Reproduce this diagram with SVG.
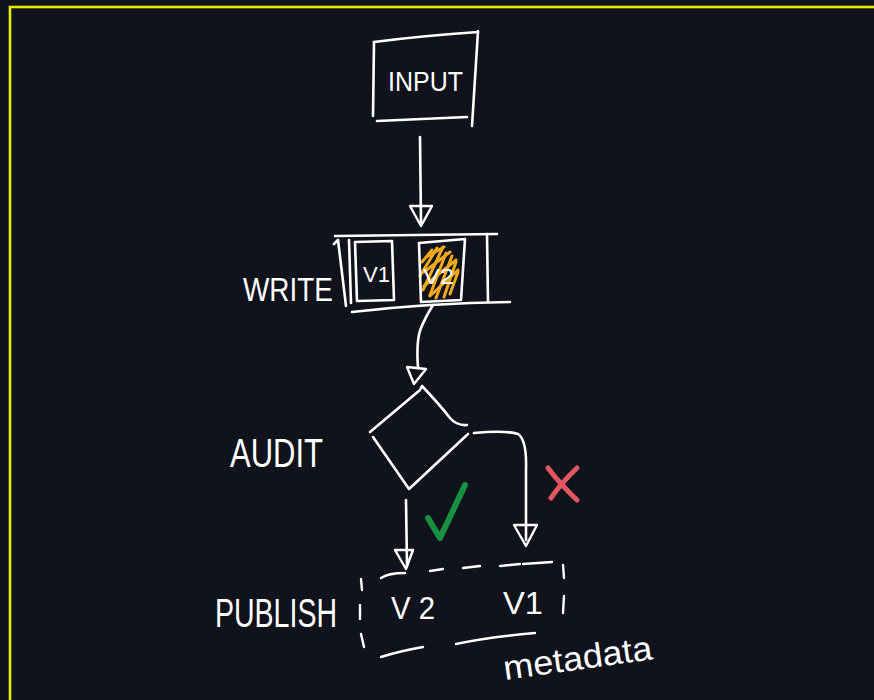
<svg xmlns="http://www.w3.org/2000/svg" width="874" height="700" viewBox="0 0 874 700">
  <style>
    .ln { fill: none; stroke: #ffffff; stroke-width: 2.6; stroke-linecap: round; stroke-linejoin: round; }
    .dash { fill: none; stroke: #ffffff; stroke-width: 2.4; stroke-linecap: round; }
    .head { fill: none; stroke: #ffffff; stroke-width: 2.4; stroke-linejoin: round; }
    .lbl { fill: #ffffff; font-family: "Liberation Sans", "DejaVu Sans", sans-serif; }
    .hatch { fill: none; stroke: #f0a81e; stroke-width: 3; stroke-linecap: round; }
  </style>

  <!-- canvas -->
  <rect x="0" y="0" width="874" height="700" fill="#10121c"/>
  <rect x="10" y="7" width="900" height="720" fill="none" stroke="#e3ee00" stroke-width="2.6"/>

  <!-- INPUT -->
  <g id="input">
    <path class="ln" d="M374 42 Q420 36 478 32"/>
    <path class="ln" d="M478 31 L472 126"/>
    <path class="ln" d="M377 121 L467 117"/>
    <path class="ln" d="M374 42 L373 116"/>
    <text class="lbl" x="388" y="91" font-size="28" textLength="75" lengthAdjust="spacingAndGlyphs">INPUT</text>
  </g>

  <!-- WRITE -->
  <g id="write">
    <text class="lbl" x="243" y="301" font-size="34" textLength="90" lengthAdjust="spacingAndGlyphs">WRITE</text>
    <path class="ln" d="M335 236 L497 234"/>
    <path class="ln" d="M352 312 Q430 303 510 302"/>
    <path class="ln" d="M334 244 L338 240 L346 306"/>
    <path class="ln" d="M349 240 L351 303"/>
    <!-- v1 slot -->
    <path class="ln" d="M355 242 L392 241 L394 300 L357 301 Z"/>
    <text class="lbl" x="363" y="282" font-size="22" textLength="27" lengthAdjust="spacingAndGlyphs">V1</text>
    <!-- v2 slot, highlighted -->
    <g>
      <path class="hatch" d="M432 250 L422 262 M437 248 L420 276 M443 247 L423 290 M446 253 L430 295 M452 256 L436 298 M456 262 L444 297 M458 272 L450 294"/>
      <path class="hatch" d="M428 256 L444 247 M424 272 L450 252 M424 286 L456 260 M430 296 L458 270"/>
    </g>
    <path class="ln" d="M419 243 L465 239 L461 300 L421 302 Z"/>
    <text class="lbl" x="423" y="284" font-size="22" textLength="31" lengthAdjust="spacingAndGlyphs">V2</text>
    <path class="ln" d="M487 234 L488 302"/>
  </g>

  <!-- AUDIT -->
  <g id="audit">
    <text class="lbl" x="230" y="467" font-size="40" textLength="93" lengthAdjust="spacingAndGlyphs">AUDIT</text>
    <path class="ln" d="M370 432 L420 390 L422 386 Q440 405 450 418 Q457 426 467 425"/>
    <path class="ln" d="M373 437 L409 489 L468 434"/>
  </g>

  <!-- PUBLISH -->
  <g id="publish">
    <text class="lbl" x="215" y="627" font-size="40" textLength="122" lengthAdjust="spacingAndGlyphs">PUBLISH</text>
    <path class="dash" d="M381 578 Q388 573 405 573"/>
    <path class="dash" d="M430 571 L443 569"/>
    <path class="dash" d="M463 568 L480 566"/>
    <path class="dash" d="M500 566 L520 564 M523 564 L552 562"/>
    <path class="dash" d="M361 579 L362 590 M360 605 L360 619 M361 634 L364 647"/>
    <path class="dash" d="M563 565 L564 578 M564 596 L563 613"/>
    <path class="dash" d="M381 657 Q400 651 423 647"/>
    <path class="dash" d="M456 644 Q490 637 535 633"/>
    <text class="lbl" x="391" y="619" font-size="32" textLength="44" lengthAdjust="spacingAndGlyphs">V 2</text>
    <text class="lbl" x="503" y="614" font-size="32" textLength="40" lengthAdjust="spacingAndGlyphs">V1</text>
    <text class="lbl" x="505" y="680" font-size="34" textLength="150" lengthAdjust="spacingAndGlyphs" transform="rotate(-8 505 680)">metadata</text>
  </g>

  <!-- verdict marks -->
  <g id="marks">
    <path d="M428 518 L440 538 L465 485" fill="none" stroke="#17903f" stroke-width="6" stroke-linecap="round" stroke-linejoin="round"/>
    <path d="M548 468 Q560 484 577 500 M577 468 Q562 482 551 498" fill="none" stroke="#e35562" stroke-width="5" stroke-linecap="round"/>
  </g>

  <!-- connectors -->
  <g id="connectors">
    <path class="ln" d="M420 137 L421 222"/>
    <polygon class="head" points="410,206 432,206 421,226"/>

    <path class="ln" d="M433 305 Q425 318 421 328 Q416 340 418 368"/>
    <polygon class="head" points="407,367 426,369 414,384"/>

    <path class="ln" d="M474 433 Q505 430 518 434 Q527 440 526 470 L526 540"/>
    <polygon class="head" points="514,525 537,525 526,546"/>

    <path class="ln" d="M406 500 L407 566"/>
    <polygon class="head" points="395,550 413,550 406,569"/>
  </g>
</svg>
